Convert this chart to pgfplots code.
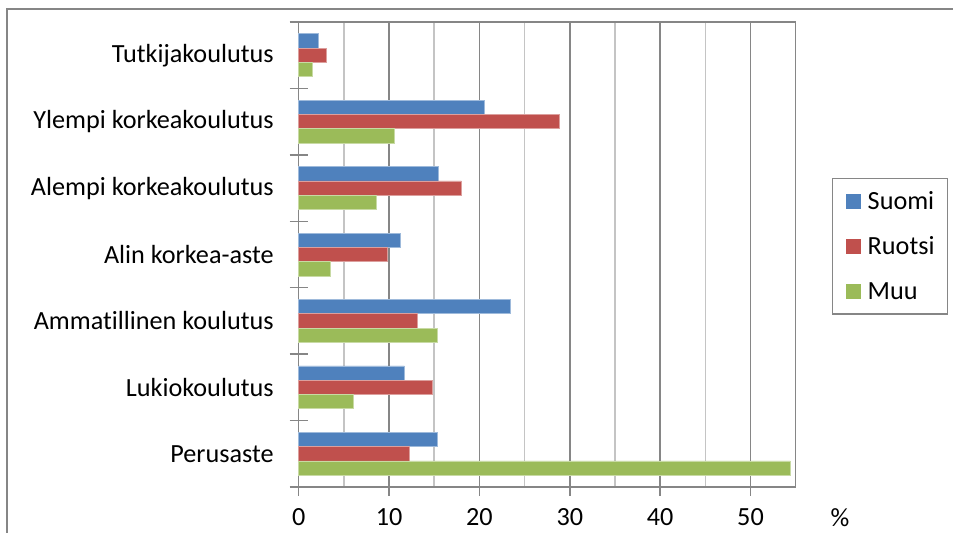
\documentclass[border=0pt]{standalone}
\usepackage{fontspec}
\setmainfont{Carlito}[Ligatures=NoCommon]
\usepackage{pgfplots}
\pgfplotsset{compat=1.18}

\definecolor{suomi}{HTML}{4F81BD}
\definecolor{ruotsi}{HTML}{C0504D}
\definecolor{muu}{HTML}{9BBB59}
\definecolor{axisgray}{HTML}{868686}
\definecolor{gridlight}{HTML}{C4C4C4}

\begin{document}
\fontsize{13.1}{15.7}\selectfont
\begin{tikzpicture}
\begin{axis}[
  scale only axis,
  width=248.5pt, height=232.5pt,
  xbar, bar width=0.215,
  xmin=0, xmax=55, ymin=-0.5, ymax=6.5,
  xtick={0,10,...,50}, minor x tick num=1,
  xmajorgrids, xminorgrids,
  major grid style={axisgray, line width=0.75pt},
  minor grid style={gridlight, line width=0.75pt},
  ytick={-0.5,0.5,...,6.5},
  yticklabels={Perusaste,Lukiokoulutus,Ammatillinen koulutus,Alin korkea-aste,Alempi korkeakoulutus,Ylempi korkeakoulutus,Tutkijakoulutus},
  y tick label as interval,
  xtick pos=bottom, ytick pos=left,
  axis line style={axisgray, line width=0.75pt},
  tick style={axisgray, line width=0.75pt},
  tick align=center, major tick length=9pt, minor tick length=0pt,
  /pgf/number format/assume math mode=true,
  xticklabel style={anchor=north, inner sep=0pt, yshift=-6.3pt},
  yticklabel style={anchor=east, inner sep=0pt, xshift=-7.85pt},
  clip=false,
  legend style={at={(1.073,0.6645)}, anchor=north west,
    draw=axisgray, line width=0.75pt,
    inner xsep=6.5pt, inner ysep=0pt, row sep=0pt,
    nodes={inner sep=0pt, text height=15.45pt, text depth=7.05pt},
    /tikz/every odd column/.append style={column sep=3.5pt}},
  legend cell align=left,
  legend image code/.code={\fill[#1, draw=none] (0pt,-3.75pt) rectangle (7.5pt,3.75pt);},
]
\addplot[fill=suomi, draw=suomi!55!white, line width=0.4pt, bar shift=0.215] coordinates {
  (15.3,0) (11.7,1) (23.4,2) (11.3,3) (15.5,4) (20.6,5) (2.2,6)
};
\addplot[fill=ruotsi, draw=ruotsi!55!white, line width=0.4pt, bar shift=0] coordinates {
  (12.3,0) (14.8,1) (13.1,2) (9.8,3) (18.0,4) (28.9,5) (3.1,6)
};
\addplot[fill=muu, draw=muu!55!white, line width=0.4pt, bar shift=-0.215] coordinates {
  (54.4,0) (6.1,1) (15.3,2) (3.5,3) (8.6,4) (10.6,5) (1.5,6)
};
\legend{Suomi,Ruotsi,Muu}
\node[anchor=north, inner sep=0pt, yshift=-10.8pt] at (axis cs:59.9,-0.5) {\%};
\end{axis}
\draw[axisgray, line width=0.75pt] (-145.85pt,-23pt) -- (-145.85pt,239pt) -- (327.15pt,239pt);
\pgfresetboundingbox
\path (-149.35pt,-23pt) rectangle (327.15pt,243.5pt);
\end{tikzpicture}
\end{document}
